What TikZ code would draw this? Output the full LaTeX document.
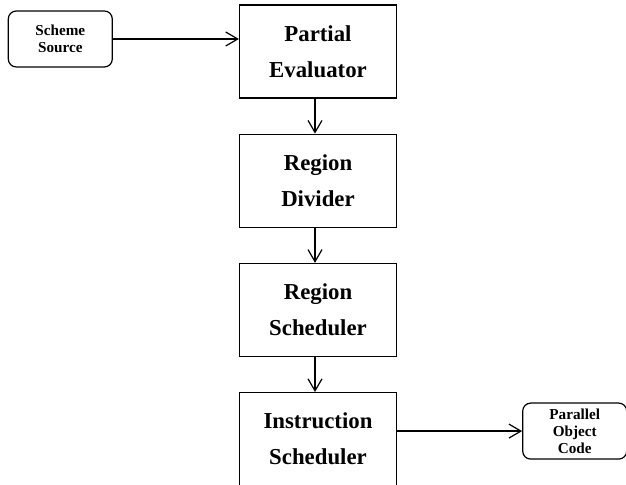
\documentclass[tikz,border=0pt]{standalone}
\usepackage{fontspec}
\setmainfont{Liberation Serif}
\usepackage{tikz}
\usetikzlibrary{arrows.meta,positioning}

\begin{document}
\begin{tikzpicture}[
    node distance=17.5pt and 63pt,
    stage/.style={draw, line width=0.6pt, align=center, minimum width=78.5pt, minimum height=46.5pt,
      inner sep=0pt, font=\fontsize{11.4}{18}\selectfont\bfseries},
    io/.style={draw, line width=0.6pt, rounded corners=4pt, align=center, minimum width=52pt,
      minimum height=28pt, inner sep=0pt, font=\fontsize{7.6}{8.6}\selectfont\bfseries},
    arr/.style={-{Straight Barb[length=6pt, width=7pt]}, line width=0.6pt}
  ]
    \useasboundingbox (0,0) rectangle (313pt,-242.5pt);

    \node[stage] (pe) at (159pt,-25.75pt) {Partial\\Evaluator};
    \node[stage, below=of pe] (rd) {Region\\Divider};
    \node[stage, below=of rd] (rs) {Region\\Scheduler};
    \node[stage, below=of rs] (is) {Instruction\\Scheduler};

    \node[io, below left=3pt and 63pt of pe.north west] (src) {Scheme\\Source};
    \node[io, right=62.5pt of is.east, yshift=4pt] (obj) {Parallel\\Object\\Code};

    \draw[arr] (src.east) -- (src.east -| pe.west);
    \draw[arr] ([xshift=-1.5pt]pe.south) -- ([xshift=-1.5pt]rd.north);
    \draw[arr] ([xshift=-1.5pt]rd.south) -- ([xshift=-1.5pt]rs.north);
    \draw[arr] ([xshift=-1.5pt]rs.south) -- ([xshift=-1.5pt]is.north);
    \draw[arr] (obj.west -| is.east) -- (obj.west);
  \end{tikzpicture}
\end{document}
